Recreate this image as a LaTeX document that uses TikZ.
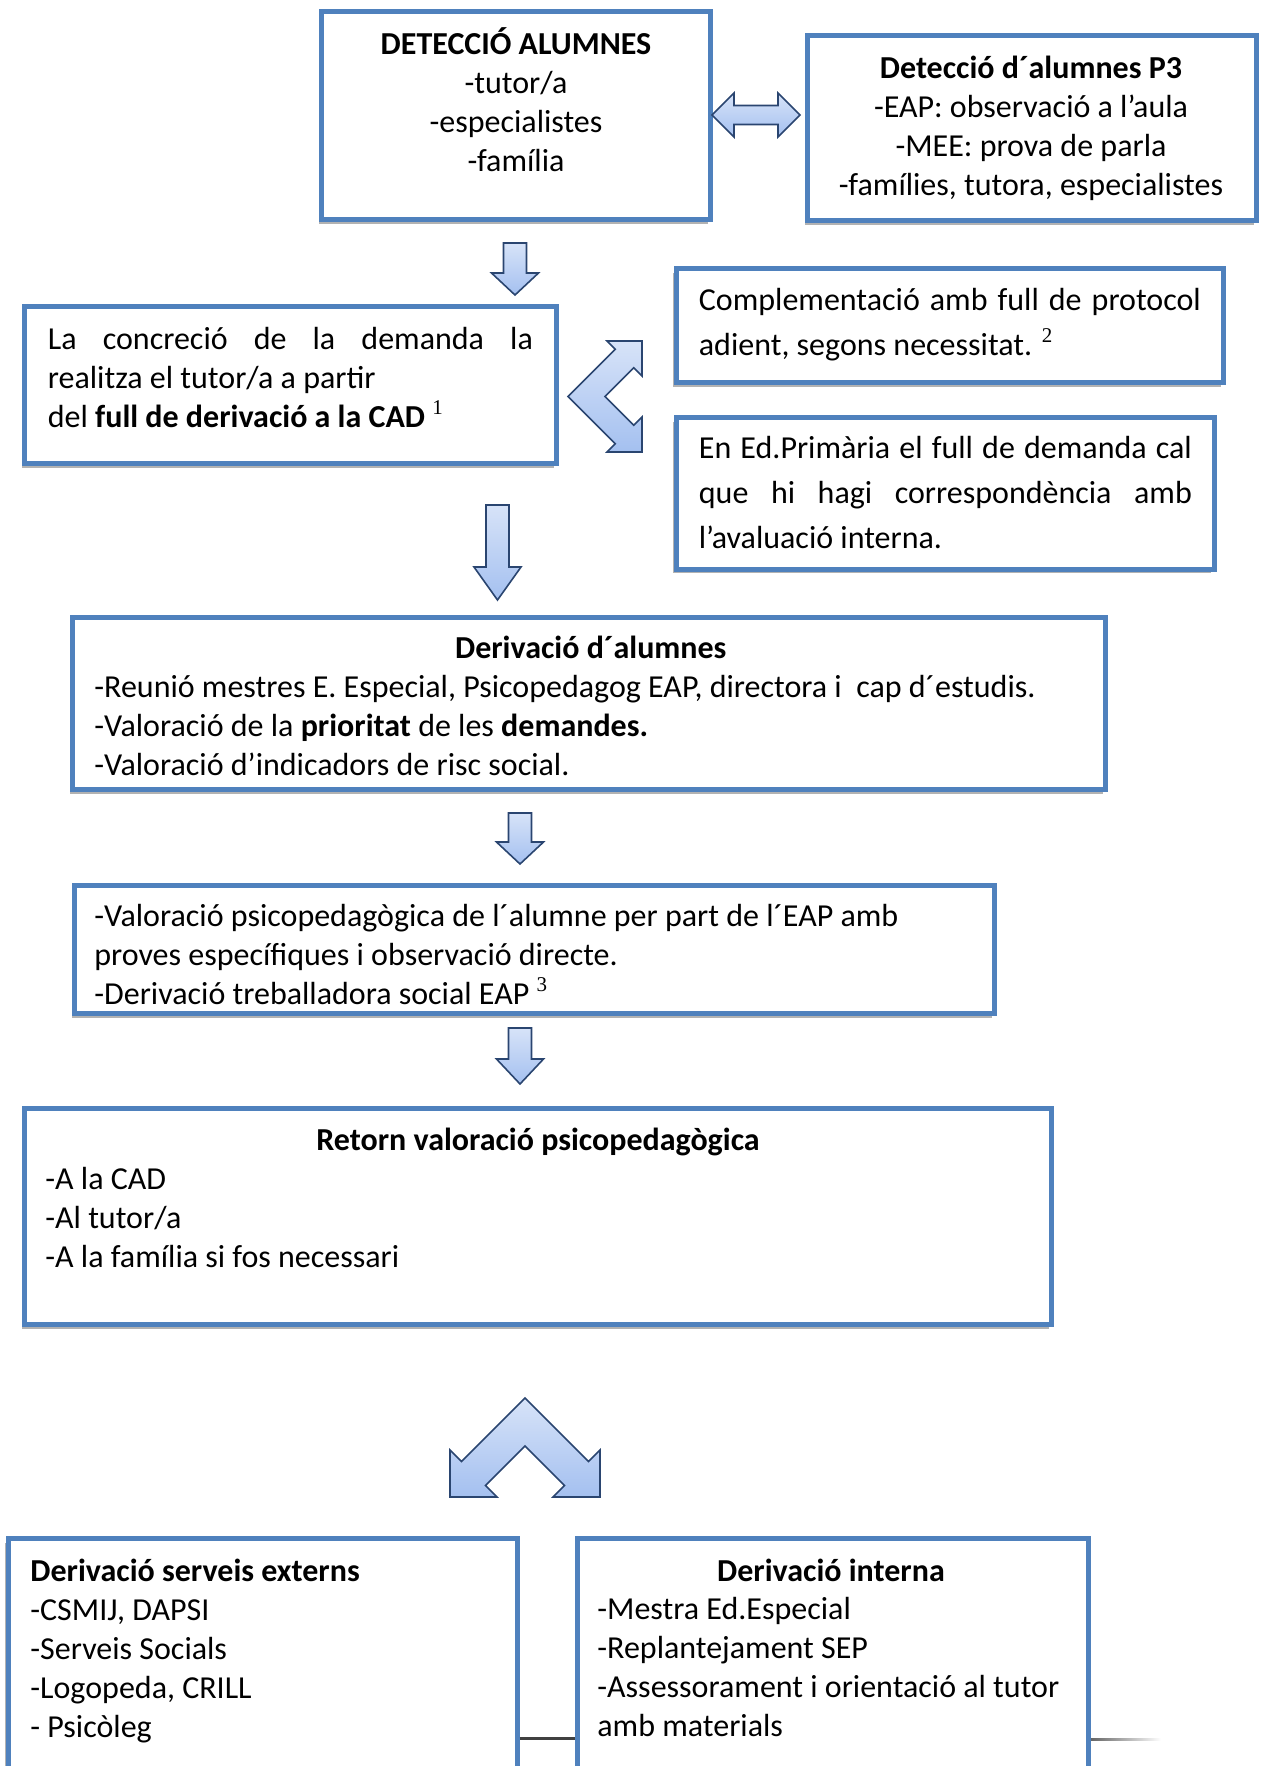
\documentclass[tikz,border=0pt]{standalone}
\usepackage{fontspec}
\setmainfont{Carlito}
\newfontfamily\notefont{Liberation Serif}
\usetikzlibrary{fit,shadows}

\definecolor{boxblue}{HTML}{4F81BD}
\definecolor{arrowline}{HTML}{2A4570}
\definecolor{arrowtop}{HTML}{D7E3F8}
\definecolor{arrowbot}{HTML}{A4C0F0}

\newcommand\fnote[1]{\raisebox{6.5pt}{\notefont\fontsize{10.5}{10.5}\selectfont #1}}

\tikzset{
  box/.style={draw=boxblue, line width=2.5pt, fill=white, inner sep=0pt,
    drop shadow={shadow xshift=-1.5pt, shadow yshift=-2pt, opacity=.3, fill=black}},
  txt/.style={inner sep=0pt, anchor=north west, align=left,
    font=\fontsize{16}{19.5}\selectfont},
  ttl/.style={txt, anchor=north, align=center},
  barrow/.style={draw=arrowline, line width=.8pt, top color=arrowtop, bottom color=arrowbot}
}

\begin{document}
\begin{tikzpicture}[x=0.5pt,y=-0.5pt]
\useasboundingbox (0,0) rectangle (1264,1766);
\clip (0,0) rectangle (1264,1766);

% boxes
\node[box, fit={(321.5,11.5) (710.5,219.5)}] (det) {};
\node[box, fit={(807.5,35.5) (1256.5,220.5)}] (p3) {};
\node[box, fit={(24.5,306.5) (556.5,463.5)}] (conc) {};
\node[box, fit={(676,268.5) (1223.5,382.5)}] (compl) {};
\node[box, fit={(676,417.5) (1214,569)}] (prim) {};
\node[box, fit={(72.5,617.5) (1105.5,789.5)}] (deriv) {};
\node[box, fit={(74.5,885.5) (994.5,1013.5)}] (valor) {};
\node[box, fit={(24.5,1108.5) (1051.5,1324.5)}] (retorn) {};
\node[box, fit={(8,1538.5) (517,1820)}] (extern) {};
\node[box, fit={(577.5,1538.5) (1088.5,1820)}] (intern) {};

% texts
\node[ttl] (tdet) at (516,26.7) {\strut\textbf{DETECCIÓ ALUMNES}\\-tutor/a\\-especialistes\\-família};
\node[ttl] (tp3) at (1031,51) {\strut\textbf{Detecció d´alumnes P3}\\-EAP: observació a l’aula\\-MEE: prova de parla\\-famílies, tutora, especialistes};
\node[txt] (tconc) at (47.5,322) {\strut\makebox[242.5pt][s]{La concreció de la demanda la}\\realitza el tutor/a a partir\\del \textbf{full de derivació a la CAD} \fnote{1}};
\node[txt, font=\fontsize{16}{22.5}\selectfont] (tcompl) at (698.5,279) {\strut\makebox[251pt][s]{Complementació amb full de protocol}\\adient, segons necessitat. \fnote{2}};
\node[txt, font=\fontsize{16}{22.5}\selectfont] (tprim) at (698.5,426.5) {\strut\makebox[246.5pt][s]{En Ed.Primària el full de demanda cal}\\\makebox[246.5pt][s]{que hi hagi correspondència amb}\\l’avaluació interna.};
\node[ttl] (hderiv) at (590.8,631) {\strut\textbf{Derivació d´alumnes}};
\node[txt] (tderiv) at (94,669.4) {\strut-Reunió mestres E. Especial, Psicopedagog EAP, directora i\ \ cap d´estudis.\\-Valoració de la \textbf{prioritat} de les \textbf{demandes.}\\-Valoració d’indicadors de risc social.};
\node[txt] (tvalor) at (94,898.5) {\strut-Valoració psicopedagògica de l´alumne per part de l´EAP amb\\proves específiques i observació directe.\\-Derivació treballadora social EAP \fnote{3}};
\node[ttl] (hretorn) at (538,1122.7) {\strut\textbf{Retorn valoració psicopedagògica}};
\node[txt] (tretorn) at (45,1161.7) {\strut-A la CAD\\-Al tutor/a\\-A la família si fos necessari};
\node[txt] (textern) at (30,1553.7) {\strut\textbf{Derivació serveis externs}\\-CSMIJ, DAPSI\\-Serveis Socials\\-Logopeda, CRILL\\- Psicòleg};
\node[ttl] (hintern) at (831,1553.7) {\strut\textbf{Derivació interna}};
\node[txt] (tintern) at (597,1591.7) {\strut-Mestra Ed.Especial\\-Replantejament SEP\\-Assessorament i orientació al tutor\\amb materials};

% block arrows
\draw[barrow] (712,115) -- (734,93) -- (734,105.5) -- (778,105.5) -- (778,93) -- (800,115)
  -- (778,137) -- (778,124.5) -- (734,124.5) -- (734,137) -- cycle;
\foreach \cx/\ya/\yb/\yc in {515/243/273/295, 497.5/505/567/600, 520/813/842/864, 520/1028/1059/1084}
  \draw[barrow] (\cx-11.5,\ya) -- (\cx+11.5,\ya) -- (\cx+11.5,\yb) -- (\cx+23.5,\yb)
    -- (\cx,\yc) -- (\cx-23.5,\yb) -- (\cx-11.5,\yb) -- cycle;
\draw[barrow] (568,396.5) -- (615.3,349.3) -- (607,341) -- (642,341) -- (642,376) -- (633.7,367.7)
  -- (605,396.5) -- (633.7,425.3) -- (642,417) -- (642,452) -- (607,452) -- (615.3,443.7) -- cycle;
\draw[barrow] (525,1398) -- (588.5,1461.5) -- (600,1450) -- (600,1497) -- (553,1497) -- (564.5,1485.5)
  -- (525,1446) -- (485.5,1485.5) -- (497,1497) -- (450,1497) -- (450,1450) -- (461.5,1461.5) -- cycle;

% lines at the bottom
\coordinate (lvl) at (0,1738);
\draw[line width=1.5pt, black!75] (extern.east |- lvl) -- (intern.west |- lvl);
\shade[left color=black!60, right color=white] (intern.east |- lvl) rectangle ++(70,2);
\end{tikzpicture}
\end{document}
